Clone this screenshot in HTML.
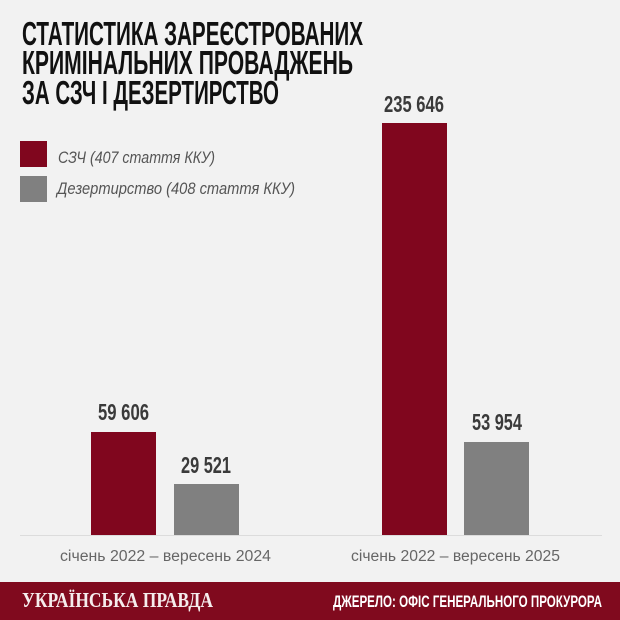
<!DOCTYPE html>
<html>
<head>
<meta charset="utf-8">
<style>
  html, body { margin: 0; padding: 0; background: #f2f2f2; }
  svg { display: block; }
</style>
</head>
<body>
<svg width="620" height="620" viewBox="0 0 620 620" xmlns="http://www.w3.org/2000/svg">
  <rect x="0" y="0" width="620" height="620" fill="#f2f2f2"/>

  <!-- Title -->
  <g font-family="'Liberation Sans', 'Noto Sans CJK SC', sans-serif" font-weight="bold" font-size="33" fill="#111111">
    <text x="22" y="45" textLength="341" lengthAdjust="spacingAndGlyphs">СТАТИСТИКА ЗАРЕЄСТРОВАНИХ</text>
    <text x="22" y="74" textLength="331" lengthAdjust="spacingAndGlyphs">КРИМІНАЛЬНИХ ПРОВАДЖЕНЬ</text>
    <text x="22" y="104" textLength="257" lengthAdjust="spacingAndGlyphs">ЗА СЗЧ І ДЕЗЕРТИРСТВО</text>
  </g>

  <!-- Legend -->
  <rect x="20" y="141" width="27" height="26" fill="#80061e"/>
  <rect x="20" y="176" width="27" height="26" fill="#808080"/>
  <g font-family="'Liberation Sans', sans-serif" font-style="italic" font-size="16.5" fill="#555555">
    <text x="58" y="163" textLength="157" lengthAdjust="spacingAndGlyphs">СЗЧ (407 стаття ККУ)</text>
    <text x="57" y="194" textLength="238" lengthAdjust="spacingAndGlyphs">Дезертирство (408 стаття ККУ)</text>
  </g>

  <!-- Axis line -->
  <line x1="20" y1="535.5" x2="602" y2="535.5" stroke="#dcdcdc" stroke-width="1"/>

  <!-- Bars -->
  <rect x="91" y="432" width="65" height="103" fill="#80061e"/>
  <rect x="174" y="484" width="65" height="51" fill="#808080"/>
  <rect x="382" y="123" width="65" height="412" fill="#80061e"/>
  <rect x="464" y="442" width="65" height="93" fill="#808080"/>

  <!-- Value labels -->
  <g font-family="'Liberation Sans', sans-serif" font-weight="bold" font-size="23.5" fill="#3a3a3a">
    <text x="98" y="420" textLength="51" lengthAdjust="spacingAndGlyphs">59 606</text>
    <text x="181" y="473" textLength="50" lengthAdjust="spacingAndGlyphs">29 521</text>
    <text x="384" y="112" textLength="60" lengthAdjust="spacingAndGlyphs">235 646</text>
    <text x="472" y="430" textLength="50" lengthAdjust="spacingAndGlyphs">53 954</text>
  </g>

  <!-- Category labels -->
  <g font-family="'Liberation Sans', sans-serif" font-size="15.5" fill="#666666">
    <text x="60" y="561" textLength="211" lengthAdjust="spacingAndGlyphs">січень 2022 – вересень 2024</text>
    <text x="351" y="561" textLength="209" lengthAdjust="spacingAndGlyphs">січень 2022 – вересень 2025</text>
  </g>

  <!-- Footer -->
  <rect x="0" y="582" width="620" height="38" fill="#800a1e"/>
  <text x="22" y="607" font-family="'Liberation Serif', serif" font-weight="bold" font-size="21" fill="#f5eded" textLength="191" lengthAdjust="spacingAndGlyphs">УКРАЇНСЬКА ПРАВДА</text>
  <text x="333" y="607" font-family="'Liberation Sans', sans-serif" font-weight="bold" font-size="17" fill="#ffffff" textLength="269" lengthAdjust="spacingAndGlyphs">ДЖЕРЕЛО: ОФІС ГЕНЕРАЛЬНОГО ПРОКУРОРА</text>
</svg>
</body>
</html>
